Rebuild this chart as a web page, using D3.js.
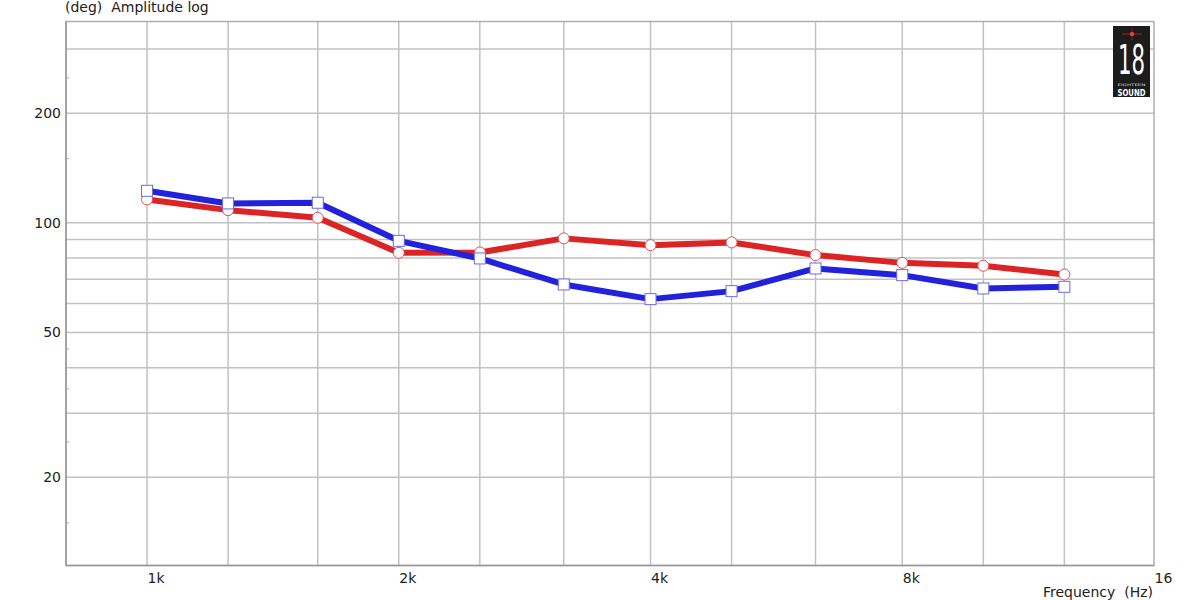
<!DOCTYPE html>
<html>
<head>
<meta charset="utf-8">
<script src="https://cdn.jsdelivr.net/npm/d3@7"></script>
<style>
  html, body { margin: 0; padding: 0; background: #fff; }
  svg { display: block; font-family: "DejaVu Sans", Verdana, sans-serif; }
</style>
</head>
<body>
<svg id="chart" width="1191" height="600"></svg>
<script>
// ---- data ----
const frequencies = [1000, 1250, 1600, 2000, 2500, 3150, 4000, 5000, 6300, 8000, 10000, 12500];
const blueSeries = [122.4, 113, 113.5, 89.2, 79.8, 67.7, 61.7, 64.9, 74.9, 71.8, 66.0, 66.7];
const redSeries  = [115.9, 108.3, 103.2, 82.7, 82.9, 90.6, 86.8, 88.3, 81.5, 77.6, 76.2, 72.1];
const xGridValues = [1000, 1250, 1600, 2000, 2500, 3150, 4000, 5000, 6300, 8000, 10000, 12500];
const xTickValues = [1000, 2000, 4000, 8000, 16000];
const xTickLabels = ["1k", "2k", "4k", "8k", "16"];
const yGridValues = [300, 200, 100, 90, 80, 70, 60, 50, 40, 30, 20];
const yMinorTicks = [250, 150, 45, 35, 25, 15];
const yTickValues = [200, 100, 50, 20];
const yTickLabels = ["200", "100", "50", "20"];

// ---- layout ----
const pL = 66, pR = 1154, pT = 21.5, pB = 565.5;
const svg = d3.select("#chart");

const x = d3.scaleLog().domain([800, 16000]).range([pL, pR]);
const y = d3.scaleLog().domain([11.45, 357]).range([pB, pT]);

// grid
const grid = svg.append("g");
grid.selectAll("line.vg").data(xGridValues).join("line")
  .attr("x1", d => x(d)).attr("x2", d => x(d))
  .attr("y1", pT).attr("y2", pB)
  .attr("stroke", "#c2c2c2").attr("stroke-width", 1.5);
grid.selectAll("line.hg").data(yGridValues).join("line")
  .attr("x1", pL).attr("x2", pR)
  .attr("y1", d => y(d)).attr("y2", d => y(d))
  .attr("stroke", "#c2c2c2").attr("stroke-width", 1.5);
grid.selectAll("line.mt").data(yMinorTicks).join("line")
  .attr("x1", pL).attr("x2", pL + 3)
  .attr("y1", d => y(d)).attr("y2", d => y(d))
  .attr("stroke", "#aaa").attr("stroke-width", 1);

// frame
svg.append("rect").attr("x", pL).attr("y", pT)
  .attr("width", pR - pL).attr("height", pB - pT)
  .attr("fill", "none").attr("stroke", "#b0b0b0").attr("stroke-width", 1.5);
svg.append("line").attr("x1", pL).attr("x2", pR).attr("y1", pB).attr("y2", pB)
  .attr("stroke", "#999").attr("stroke-width", 1.5);
svg.append("line").attr("x1", pL).attr("x2", pL).attr("y1", pT).attr("y2", pB)
  .attr("stroke", "#999").attr("stroke-width", 1.5);

// axes via d3 axis generators (labels only)
const xAxis = d3.axisBottom(x).tickValues(xTickValues)
  .tickFormat((d, i) => xTickLabels[i]).tickSize(0).tickPadding(0);
const gx = svg.append("g").attr("transform", `translate(0,${pB})`).call(xAxis);
gx.select(".domain").remove();
gx.selectAll("text").attr("text-anchor", "start").attr("dy", null).attr("y", 17)
  .attr("font-size", 14).attr("fill", "#222").attr("font-family", "DejaVu Sans, Verdana, sans-serif");

const yAxis = d3.axisLeft(y).tickValues(yTickValues)
  .tickFormat((d, i) => yTickLabels[i]).tickSize(0).tickPadding(5);
const gy = svg.append("g").attr("transform", `translate(${pL},0)`).call(yAxis);
gy.select(".domain").remove();
gy.selectAll("text").attr("font-size", 14).attr("fill", "#222")
  .attr("font-family", "DejaVu Sans, Verdana, sans-serif");

// titles
svg.append("text").attr("x", 65).attr("y", 12).attr("font-size", 14).attr("fill", "#222")
  .attr("xml:space", "preserve").text("(deg)  Amplitude log");
svg.append("text").attr("x", 1153).attr("y", 597).attr("text-anchor", "end")
  .attr("font-size", 14).attr("fill", "#222")
  .attr("xml:space", "preserve").text("Frequency  (Hz)");

// logo
const logo = svg.append("g");
logo.append("rect").attr("x", 1113).attr("y", 26).attr("width", 37).attr("height", 71).attr("fill", "#1c1c1c");
logo.append("line").attr("x1", 1122).attr("x2", 1142).attr("y1", 34).attr("y2", 34).attr("stroke", "#b83020").attr("stroke-width", 0.8);
logo.append("line").attr("x1", 1132).attr("x2", 1132).attr("y1", 28).attr("y2", 40).attr("stroke", "#b83020").attr("stroke-width", 0.6);
logo.append("circle").attr("cx", 1132).attr("cy", 34).attr("r", 2.2).attr("fill", "#e84030");
logo.append("text").attr("x", 1131.5).attr("y", 74).attr("text-anchor", "middle")
  .attr("font-family", "Liberation Sans Narrow, DejaVu Sans Condensed, sans-serif")
  .attr("font-size", 40).attr("fill", "#fff").attr("textLength", 27).attr("lengthAdjust", "spacingAndGlyphs").text("18");
logo.append("text").attr("x", 1131.5).attr("y", 86.2).attr("text-anchor", "middle")
  .attr("font-size", 3.5).attr("fill", "#ddd").attr("textLength", 28).attr("lengthAdjust", "spacingAndGlyphs").text("EIGHTEEN");
logo.append("text").attr("x", 1131.5).attr("y", 95.5).attr("text-anchor", "middle")
  .attr("font-family", "DejaVu Sans Condensed, sans-serif").attr("font-weight", "bold")
  .attr("font-size", 9).attr("fill", "#fff").attr("textLength", 28).attr("lengthAdjust", "spacingAndGlyphs").text("SOUND");

// series
const lineGen = d3.line().x(d => x(d[0])).y(d => y(d[1]));
const redPts = frequencies.map((f, i) => [f, redSeries[i]]);
const bluePts = frequencies.map((f, i) => [f, blueSeries[i]]);

svg.append("path").datum(redPts).attr("d", lineGen).attr("fill", "none")
  .attr("stroke", "#dd2424").attr("stroke-width", 6).attr("stroke-linejoin", "round");
svg.selectAll("circle.rm").data(redPts).join("circle")
  .attr("cx", d => x(d[0])).attr("cy", d => y(d[1])).attr("r", 5.5)
  .attr("fill", "#fff").attr("stroke", "#e05050").attr("stroke-width", 1);

svg.append("path").datum(bluePts).attr("d", lineGen).attr("fill", "none")
  .attr("stroke", "#2222dd").attr("stroke-width", 6).attr("stroke-linejoin", "round");
svg.selectAll("rect.bm").data(bluePts).join("rect")
  .attr("x", d => x(d[0]) - 5.5).attr("y", d => y(d[1]) - 5.5)
  .attr("width", 11).attr("height", 11)
  .attr("fill", "#fff").attr("stroke", "#6a6ae8").attr("stroke-width", 1);
</script>
</body>
</html>
